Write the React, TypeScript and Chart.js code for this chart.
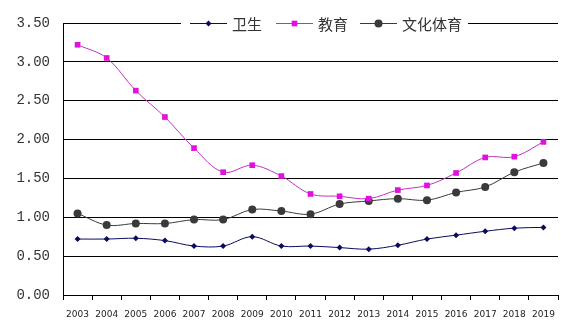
import React, { useEffect, useRef } from "react";
import { Chart, registerables } from "chart.js";

Chart.register(...registerables);

const years = ["2003","2004","2005","2006","2007","2008","2009","2010","2011","2012","2013","2014","2015","2016","2017","2018","2019"];
const health = [0.72,0.72,0.73,0.70,0.63,0.63,0.75,0.63,0.63,0.61,0.59,0.64,0.72,0.77,0.82,0.86,0.87];
const education = [3.22,3.05,2.63,2.29,1.89,1.58,1.67,1.53,1.30,1.27,1.24,1.35,1.41,1.57,1.77,1.78,1.97];
const culture = [1.05,0.90,0.92,0.92,0.97,0.97,1.10,1.08,1.04,1.17,1.21,1.24,1.22,1.32,1.39,1.58,1.70];
const seriesNames = ["卫生", "教育", "文化体育"];
const yTicks = [0, 0.5, 1, 1.5, 2, 2.5, 3, 3.5];

const colors = { health: "#0a0a5e", education: "#e010e0", educationLine: "#c030c0", culture: "#3a3a3a" };

const legendPlugin = {
  id: "customLegend",
  afterDraw(chart: any) {
    const ctx = chart.ctx;
    const y = chart.chartArea.top;
    ctx.save();
    ctx.fillStyle = "#ffffff";
    ctx.fillRect(181, y - 9, 287, 18);
    const items = [
      { x: 190, text: seriesNames[0], color: colors.health, style: "rectRot", r: 3 },
      { x: 276, text: seriesNames[1], color: colors.education, style: "rect", r: 4 },
      { x: 360, text: seriesNames[2], color: colors.culture, style: "circle", r: 4 },
    ];
    ctx.font = "15px 'Noto Sans CJK SC'";
    ctx.textBaseline = "middle";
    for (const it of items) {
      ctx.strokeStyle = it.color === colors.education ? colors.educationLine : it.color;
      ctx.lineWidth = 1;
      ctx.beginPath();
      ctx.moveTo(it.x, y + 0.5);
      ctx.lineTo(it.x + 37, y + 0.5);
      ctx.stroke();
      ctx.fillStyle = it.color;
      ctx.strokeStyle = it.color;
      (Chart as any).helpers?.drawPoint;
      drawMarker(ctx, it.style, it.r, it.x + 18.5, y + 0.5, it.color);
      ctx.fillStyle = "#333333";
      ctx.fillText(it.text, it.x + 42, y + 1);
    }
    ctx.restore();
  },
};

function drawMarker(ctx: CanvasRenderingContext2D, style: string, r: number, x: number, y: number, color: string) {
  ctx.fillStyle = color;
  ctx.beginPath();
  if (style === "rectRot") {
    ctx.moveTo(x, y - r);
    ctx.lineTo(x + r, y);
    ctx.lineTo(x, y + r);
    ctx.lineTo(x - r, y);
    ctx.closePath();
  } else if (style === "rect") {
    const s = r * Math.SQRT1_2;
    ctx.rect(x - s, y - s, 2 * s, 2 * s);
  } else {
    ctx.arc(x, y, r, 0, Math.PI * 2);
  }
  ctx.fill();
}

export default function App() {
  const ref = useRef<HTMLCanvasElement>(null);
  useEffect(() => {
    if (!ref.current) return;
    const chart = new Chart(ref.current, {
      type: "line",
      data: {
        labels: years,
        datasets: [
          {
            label: seriesNames[0], data: health, borderColor: colors.health, backgroundColor: colors.health,
            borderWidth: 1, pointStyle: "rectRot", pointRadius: 3, pointBorderWidth: 0, tension: 0.35,
          },
          {
            label: seriesNames[1], data: education, borderColor: colors.educationLine, backgroundColor: colors.education,
            borderWidth: 1, pointStyle: "rect", pointRadius: 4, pointBorderWidth: 0, tension: 0.35,
          },
          {
            label: seriesNames[2], data: culture, borderColor: colors.culture, backgroundColor: colors.culture,
            borderWidth: 1, pointStyle: "circle", pointRadius: 4, pointBorderWidth: 0, tension: 0.35,
          },
        ],
      },
      options: {
        responsive: false,
        animation: false,
        layout: { padding: { top: 23, right: 20, left: 0, bottom: 0 } },
        plugins: { legend: { display: false }, tooltip: { enabled: false } },
        scales: {
          x: {
            offset: true,
            grid: { offset: true, drawOnChartArea: false, drawTicks: true, tickLength: 5, color: "#000" },
            border: { display: true, color: "#000", width: 1 },
            ticks: { color: "#222", font: { family: "'DejaVu Sans'", size: 9 }, padding: 9, maxRotation: 0, autoSkip: false },
            afterFit: (s: any) => { s.height = 33; },
          },
          y: {
            min: 0, max: 3.5,
            afterBuildTicks: (s: any) => { s.ticks = yTicks.map((v) => ({ value: v })); },
            grid: { color: "#000", drawTicks: false, lineWidth: 1 },
            border: { display: true, color: "#000", width: 1 },
            ticks: { color: "#333", font: { family: "'Liberation Mono'", size: 14 }, padding: 13, callback: (v: any) => Number(v).toFixed(2) },
            afterFit: (s: any) => { s.width = 63; },
          },
        },
      },
      plugins: [legendPlugin],
    });
    return () => chart.destroy();
  }, []);
  return (
    <div style={{ position: "fixed", left: 0, top: 0, width: 578, height: 328, background: "#fff" }}>
      <canvas ref={ref} width={578} height={328} />
    </div>
  );
}
